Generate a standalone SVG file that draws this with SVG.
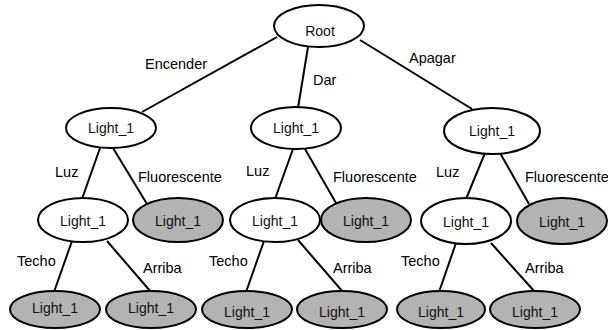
<svg xmlns="http://www.w3.org/2000/svg" width="608" height="330" viewBox="0 0 608 330">
  <style>
    .edge { stroke: #000; stroke-width: 2; fill: none; }
    .node ellipse { stroke: #000; stroke-width: 2; fill: #fff; }
    .node.leaf ellipse { fill: #b3b3b3; }
    .node text { font-family: "Liberation Sans", Arial, sans-serif; font-size: 14px; fill: #111; text-anchor: middle; }
    .lbl { font-family: "Liberation Sans", Arial, sans-serif; font-size: 14.5px; fill: #000; }
  </style>
  <rect width="608" height="330" fill="#fff"/>

  <g id="connectors">
    <line class="edge" x1="277" y1="37" x2="142" y2="112"/>
    <line class="edge" x1="308" y1="47" x2="298" y2="108"/>
    <line class="edge" x1="360" y1="40" x2="472" y2="109"/>

    <line class="edge" x1="100" y1="148" x2="82" y2="199"/>
    <line class="edge" x1="113" y1="148" x2="147" y2="204"/>
    <line class="edge" x1="293" y1="149" x2="275" y2="199"/>
    <line class="edge" x1="305" y1="149" x2="336" y2="203"/>
    <line class="edge" x1="485" y1="153" x2="466" y2="199"/>
    <line class="edge" x1="500" y1="153" x2="529" y2="204"/>

    <line class="edge" x1="72" y1="241" x2="54" y2="292"/>
    <line class="edge" x1="107" y1="241" x2="151" y2="292"/>
    <line class="edge" x1="264" y1="241" x2="246" y2="292"/>
    <line class="edge" x1="298" y1="240" x2="343" y2="292"/>
    <line class="edge" x1="456" y1="243" x2="439" y2="292"/>
    <line class="edge" x1="491" y1="243" x2="535" y2="292"/>

    <text class="lbl" x="145" y="69">Encender</text>
    <text class="lbl" x="313" y="85">Dar</text>
    <text class="lbl" x="409" y="63">Apagar</text>

    <text class="lbl" x="55" y="177">Luz</text>
    <text class="lbl" x="138" y="182">Fluorescente</text>
    <text class="lbl" x="246" y="176">Luz</text>
    <text class="lbl" x="333" y="182">Fluorescente</text>
    <text class="lbl" x="436" y="177">Luz</text>
    <text class="lbl" x="525" y="182">Fluorescente</text>

    <text class="lbl" x="17" y="266">Techo</text>
    <text class="lbl" x="143" y="273">Arriba</text>
    <text class="lbl" x="209" y="266">Techo</text>
    <text class="lbl" x="333" y="273">Arriba</text>
    <text class="lbl" x="401" y="266">Techo</text>
    <text class="lbl" x="525" y="273">Arriba</text>
  </g>

  <g id="root" class="node"><ellipse cx="319" cy="26" rx="45" ry="21"/><text x="320" y="36">Root</text></g>

  <g id="encender" class="node"><ellipse cx="111" cy="128" rx="45" ry="20"/><text x="111" y="133">Light_1</text></g>
  <g id="dar" class="node"><ellipse cx="296" cy="128" rx="45" ry="21"/><text x="296" y="133">Light_1</text></g>
  <g id="apagar" class="node"><ellipse cx="492" cy="131" rx="48" ry="23"/><text x="492" y="136">Light_1</text></g>

  <g id="encender-luz" class="node"><ellipse cx="83" cy="220" rx="45" ry="22"/><text x="83" y="226">Light_1</text></g>
  <g id="encender-fluor" class="node leaf"><ellipse cx="178" cy="220" rx="45" ry="22"/><text x="178" y="226">Light_1</text></g>
  <g id="dar-luz" class="node"><ellipse cx="275" cy="220" rx="45" ry="22"/><text x="275" y="226">Light_1</text></g>
  <g id="dar-fluor" class="node leaf"><ellipse cx="366" cy="220" rx="45" ry="22"/><text x="366" y="226">Light_1</text></g>
  <g id="apagar-luz" class="node"><ellipse cx="466" cy="221" rx="45" ry="23"/><text x="466" y="227">Light_1</text></g>
  <g id="apagar-fluor" class="node leaf"><ellipse cx="562" cy="221" rx="45" ry="23"/><text x="562" y="227">Light_1</text></g>

  <g id="encender-techo" class="node leaf"><ellipse cx="55" cy="309.5" rx="45" ry="18.5"/><text x="55" y="313">Light_1</text></g>
  <g id="encender-arriba" class="node leaf"><ellipse cx="151" cy="309.5" rx="45" ry="18.5"/><text x="151" y="313">Light_1</text></g>
  <g id="dar-techo" class="node leaf"><ellipse cx="247" cy="309.5" rx="45" ry="18.5"/><text x="247" y="317">Light_1</text></g>
  <g id="dar-arriba" class="node leaf"><ellipse cx="342" cy="309.5" rx="45" ry="18.5"/><text x="342" y="317">Light_1</text></g>
  <g id="apagar-techo" class="node leaf"><ellipse cx="441" cy="309.5" rx="44" ry="18.5"/><text x="441" y="317">Light_1</text></g>
  <g id="apagar-arriba" class="node leaf"><ellipse cx="535" cy="309.5" rx="45" ry="18.5"/><text x="535" y="317">Light_1</text></g>
</svg>
